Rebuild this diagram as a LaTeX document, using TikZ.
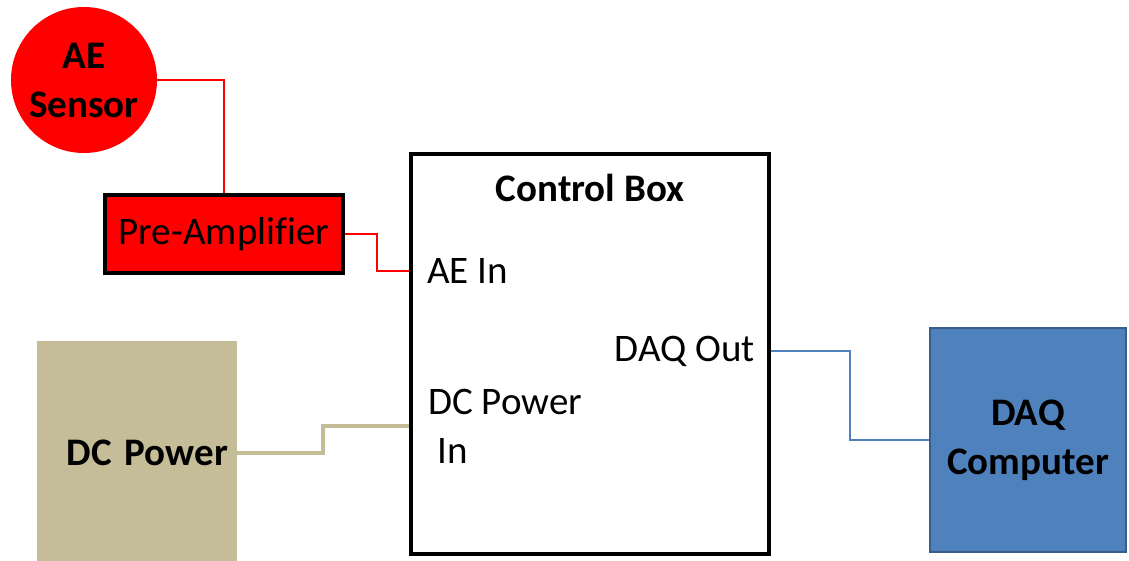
\documentclass[tikz,border=0pt]{standalone}
\usepackage{fontspec}
\setmainfont{Carlito}[Ligatures=NoCommon]
\usetikzlibrary{positioning}
\definecolor{sensorred}{HTML}{FF0000}
\definecolor{powertan}{HTML}{C4BD97}
\definecolor{daqblue}{HTML}{4F81BD}
\definecolor{daqedge}{HTML}{385D8A}
\begin{document}
\begin{tikzpicture}[
    x=1pt, y=-1pt,
    every node/.style={font=\fontsize{39}{49}\selectfont},
    title/.style={font=\fontsize{39}{49}\selectfont\bfseries},
    unit/.style={draw, line width=4pt, inner sep=0pt},
    port/.style={inner sep=0pt, align=left},
    wire/.style={line width=1.5pt},
]
\useasboundingbox (0,0) rectangle (1129,560);
% Sensor and pre-amplifier
\node[circle, fill=sensorred, minimum size=146pt, inner sep=0pt, align=center, title] (sensor) at (84,80) {AE\\Sensor};
\node[unit, fill=sensorred, minimum width=238pt, minimum height=78pt] (preamp) at (224,234) {Pre-Amplifier};
% Control box and its ports
\node[unit, line width=3.5pt, minimum width=358pt, minimum height=400pt] (cbox) at (590,354) {};
\node[title, inner sep=0pt] (cbtitle) at (590,188) {Control Box};
\node[port, anchor=west] (aein) at (427,271) {AE In};
\node[port, anchor=east] (daqout) at (755,351) {DAQ Out};
\node[port, anchor=west] (dcin) at (428,426) {DC Power\\\hspace{0.25em}In};
% Power supply and computer
\node[fill=powertan, title, minimum width=200pt, minimum height=224pt, inner xsep=9pt, text width=182pt, align=right] (dcpower) at (137,453) {DC Power};
\node[draw=daqedge, fill=daqblue, line width=2.5pt, title, minimum width=196pt, minimum height=224pt, align=center] (daq) at (1028,440) {DAQ\\Computer};
% Wires
\draw[wire, sensorred] (sensor.east) -| (preamp.north);
\draw[wire, sensorred] (preamp.east) -- ++(32,0) |- (cbox.west |- aein.west);
\draw[line width=4pt, powertan] (dcpower.east) -- ++(86,0) |- (cbox.west |- dcin.west);
\draw[wire, daqblue] (cbox.east |- daqout.east) -- ++(79,0) |- (daq.west);
\end{tikzpicture}
\end{document}
